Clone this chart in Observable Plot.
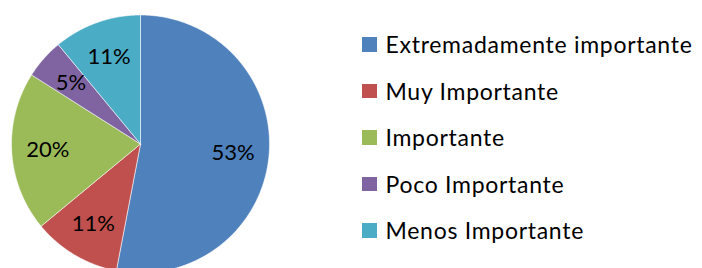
<!DOCTYPE html>
<html>
<head>
<meta charset="utf-8">
<script src="https://cdn.jsdelivr.net/npm/d3@7"></script>
<script src="https://cdn.jsdelivr.net/npm/@observablehq/plot@0.6"></script>
<style>
  html, body { margin: 0; padding: 0; background: #fff; }
  #wrap { position: relative; width: 702px; height: 268px; overflow: hidden; font-family: Lato, "Open Sans", sans-serif; }
  #legend { position: absolute; left: 362px; top: 21px; }
  .row { display: flex; align-items: center; height: 46.5px; color: #000; white-space: nowrap; }
  .sw { width: 14.5px; height: 14.5px; margin-right: 9px; flex: none; }
</style>
</head>
<body>
<div id="wrap"><div id="legend"></div></div>
<script>
const categories = ["Extremadamente importante", "Muy Importante", "Importante", "Poco Importante", "Menos Importante"];
const values = [53, 11, 20, 5, 11];
const labels = ["53%", "11%", "20%", "5%", "11%"];
const colors = ["#4F81BD", "#C0504D", "#9BBB59", "#8064A2", "#4BACC6"];

const data = categories.map((c, i) => ({category: c, value: values[i], label: labels[i]}));
const arcs = d3.pie().sort(null).value(d => d.value)(data);

// slice outlines in unit-circle coordinates (y up), start at 12 o'clock, clockwise
const slicePts = [];
arcs.forEach(a => {
  const cat = a.data.category;
  slicePts.push({category: cat, x: 0, y: 0});
  const n = Math.max(2, Math.ceil((a.endAngle - a.startAngle) / 0.01));
  for (let k = 0; k <= n; k++) {
    const t = a.startAngle + (a.endAngle - a.startAngle) * k / n;
    slicePts.push({category: cat, x: Math.sin(t), y: Math.cos(t)});
  }
  slicePts.push({category: cat, x: 0, y: 0});
});
const labelPts = arcs.map(a => {
  const m = (a.startAngle + a.endAngle) / 2;
  return {category: a.data.category, label: a.data.label, x: 0.72 * Math.sin(m), y: 0.72 * Math.cos(m)};
});

const chart = Plot.plot({
  width: 702,
  height: 268,
  margin: 0,
  style: {background: "transparent", overflow: "visible"},
  x: {domain: [-1, 1], range: [11, 269], axis: null},
  y: {domain: [-1, 1], range: [272.5, 14.5], axis: null},
  color: {domain: categories, range: colors},
  marks: [
    Plot.line(slicePts, {x: "x", y: "y", z: "category", fill: "category", stroke: "white", strokeWidth: 0.8, strokeOpacity: 0.7, curve: "linear"}),
    Plot.text(labelPts, {x: "x", y: "y", text: "label", fill: "#000", fontSize: 22, fontFamily: "Lato, 'Open Sans'", textAnchor: "middle", lineAnchor: "middle"})
  ]
});
chart.style.position = "absolute";
chart.style.left = "0px";
chart.style.top = "0px";
const wrap = document.getElementById("wrap");
wrap.insertBefore(chart, wrap.firstChild);

// legend
const fs = 23;
const ctx = document.createElement("canvas").getContext("2d");
ctx.font = fs + 'px Lato';
const w = ctx.measureText(categories[0]).width;
const ls = Math.max(0, Math.min(0.8, (307 - w) / categories[0].length));
const legend = document.getElementById("legend");
categories.forEach((c, i) => {
  const row = document.createElement("div");
  row.className = "row";
  row.style.fontSize = fs + "px";
  const sw = document.createElement("div");
  sw.className = "sw";
  sw.style.background = colors[i];
  const tx = document.createElement("span");
  tx.textContent = c;
  tx.style.letterSpacing = ls + "px";
  row.appendChild(sw);
  row.appendChild(tx);
  legend.appendChild(row);
});
</script>
</body>
</html>
